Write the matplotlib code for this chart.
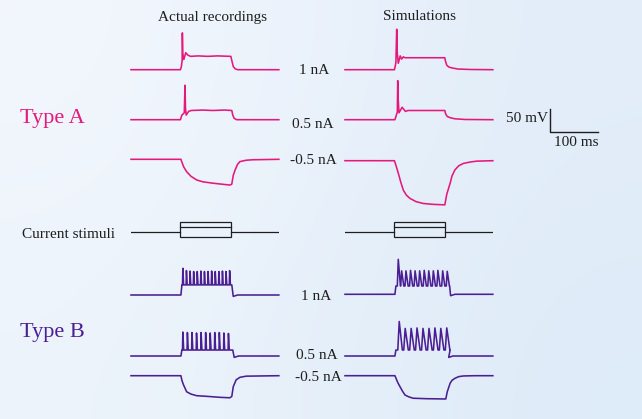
import matplotlib
matplotlib.use("Agg")
import matplotlib.pyplot as plt
import numpy as np
from matplotlib.patches import Rectangle

W, H = 642, 419
PX_PER_MS = 0.48
PX_PER_MV = 0.46
PX_PER_NA = 10.0
REST = -65
SWEEP_MS = 308

PINK = "#e5187b"
PURPLE = "#4b1f93"
INK = "#1e1e1e"

# ---- Type A (ms / mV) ----
a_rec_1_t = [0, 103, 105, 106.5, 107, 108, 110, 114, 118, 124, 140, 160, 180, 208, 210, 213, 217, 222, 308]
a_rec_1_v = [-65, -65, -58, -45, 15, -30, -43, -28, -33, -36, -35, -36, -35, -36, -45, -58, -63, -65, -65]

a_rec_05_t = [0, 103, 106, 111, 112.5, 113.5, 115, 120, 125, 150, 170, 195, 210, 212, 215, 220, 308]
a_rec_05_v = [-65, -65, -55, -50, 10, -40, -55, -47, -45, -44, -45, -44, -45, -55, -62, -65, -65]

a_rec_m05_t = [0, 104, 105.6, 110, 116, 125, 137, 150, 171, 206, 210, 213, 217, 222, 227, 240, 254, 308]
a_rec_m05_v = [-65, -65, -70, -82, -92, -102, -110, -114, -117, -121, -119, -100, -88, -76, -70, -67, -66, -65]

a_sim_1_t = [0, 103, 106, 107.7, 109, 111, 115, 118, 121.5, 125, 208, 209, 211.8, 216, 222, 235, 260, 308]
a_sim_1_v = [-65, -65, -50, 23, -30, -51, -35, -42, -37, -39, -39, -45, -55, -59, -61, -63.5, -64.5, -65]

a_sim_05_t = [0, 104, 107, 109, 109.8, 110.8, 112.5, 119, 126, 131, 208, 209.5, 213, 220, 229, 250, 308]
a_sim_05_v = [-65, -65, -55, -48, 20, -20, -50, -38, -47, -45, -45, -52, -58, -61, -63, -64.5, -65]

a_sim_m05_t = [0, 103, 107, 111, 116, 121.5, 128, 135.4, 148, 163, 185, 208, 212, 219, 223, 229, 237, 246.5, 260, 274, 308]
a_sim_m05_v = [-65, -65, -78, -92, -111, -129, -140, -147, -154, -158, -160, -161, -138, -114, -98, -85, -76, -71, -68, -66, -65]

# ---- Type B ----
b_rec_m05_t = [0, 104, 106, 109.4, 116, 125, 137, 160, 185, 206, 210, 213, 219, 227, 240, 308]
b_rec_m05_v = [-65, -65, -75, -85, -100, -105, -108.5, -110, -112, -113, -110, -89, -74, -68.5, -66, -65]

b_sim_m05_t = [0, 104, 106, 110, 114.6, 120, 125, 133, 142, 170, 210, 213, 219, 223, 229, 237, 246.5, 270, 308]
b_sim_m05_v = [-65, -65, -70, -80, -89, -99, -107, -111, -114, -115, -115.6, -100, -81.5, -75, -70.7, -67, -65.6, -65, -65]

# spike trains: spike times (ms), peak values (mV), inter-spike trough (mV)
b_rec_1_spk_t = [108, 115.5, 123, 130.5, 138, 145.5, 153, 160.5, 168, 175.5, 183, 190.5, 198, 205.5]
b_rec_1_spk_v = [-7, -12, -13, -14, -14, -13, -14, -14, -13, -14, -14, -13, -14, -12]
b_rec_1_trough = -43
b_rec_1_onoff = (104, 210)

b_rec_05_spk_t = [108, 117.5, 127, 136.5, 146, 155.5, 165, 174.5, 184, 193.5, 203]
b_rec_05_spk_v = [-13, -14, -14, -15, -14, -14, -15, -14, -14, -15, -16]
b_rec_05_trough = -52
b_rec_05_onoff = (104, 212)

b_sim_1_spk_t = [111, 118, 127, 136.5, 146, 155.5, 165, 174.5, 184, 193.5, 203.5, 213]
b_sim_1_spk_v = [11, -14, -14, -13, -14, -14, -13, -14, -14, -13, -14, -15]
b_sim_1_trough = -47
b_sim_1_onoff = (104, 217)

b_sim_05_spk_t = [113, 125.4, 137.8, 150, 162.5, 175, 187.3, 199.6, 212]
b_sim_05_spk_v = [10, -5, -5, -4, -5, -5, -4, -5, -4]
b_sim_05_trough = -52
b_sim_05_onoff = (104, 213)

# stimulus levels (nA) and timing (ms)
stim_levels = [1, 0.5, -0.5]
stim_on, stim_off = 103, 208


def spike_train(times, peaks, trough, onoff, rise, fall):
    on, off = onoff
    t = [0, on, on + 2]
    v = [REST, REST, trough]
    for ti, pk in zip(times, peaks):
        t += [ti - rise, ti, ti + fall]
        v += [trough, pk, trough]
    t += [max(off, t[-1] + 0.5), off + 3, off + 12, SWEEP_MS]
    v += [trough, REST - 3, REST, REST]
    return t, v


fig = plt.figure(figsize=(W / 100, H / 100), dpi=100)

# soft blue background
bg = fig.add_axes([0, 0, 1, 1])
grad = np.array([[[243, 247, 253], [226, 237, 249]],
                 [[237, 244, 251], [222, 235, 248]]]) / 255
bg.imshow(grad, extent=[0, 1, 0, 1], aspect="auto", interpolation="bicubic")
bg.axis("off")


def trace_axes(x0, y_base, half=70):
    ax = fig.add_axes([x0 / W, 1 - (y_base + half) / H,
                       SWEEP_MS * PX_PER_MS / W, 2 * half / H])
    ax.set_xlim(0, SWEEP_MS)
    ax.set_ylim(REST - half / PX_PER_MV, REST + half / PX_PER_MV)
    ax.axis("off")
    ax.patch.set_alpha(0)
    return ax


def draw(x0, y_base, t, v, color):
    ax = trace_axes(x0, y_base)
    ax.plot(t, v, color=color, lw=1.15, clip_on=False, solid_joinstyle="round")


LEFT, RIGHT = 131, 345

draw(LEFT, 69.7, a_rec_1_t, a_rec_1_v, PINK)
draw(LEFT, 119.7, a_rec_05_t, a_rec_05_v, PINK)
draw(LEFT, 159.3, a_rec_m05_t, a_rec_m05_v, PINK)
draw(RIGHT, 69.7, a_sim_1_t, a_sim_1_v, PINK)
draw(RIGHT, 119.7, a_sim_05_t, a_sim_05_v, PINK)
draw(RIGHT, 160.7, a_sim_m05_t, a_sim_m05_v, PINK)

draw(LEFT, 295, *spike_train(b_rec_1_spk_t, b_rec_1_spk_v, b_rec_1_trough, b_rec_1_onoff, 0.7, 1.6), PURPLE)
draw(LEFT, 356, *spike_train(b_rec_05_spk_t, b_rec_05_spk_v, b_rec_05_trough, b_rec_05_onoff, 0.7, 1.8), PURPLE)
draw(LEFT, 375.7, b_rec_m05_t, b_rec_m05_v, PURPLE)
draw(RIGHT, 294.3, *spike_train(b_sim_1_spk_t, b_sim_1_spk_v, b_sim_1_trough, b_sim_1_onoff, 2.0, 4.5), PURPLE)
draw(RIGHT, 356, *spike_train(b_sim_05_spk_t, b_sim_05_spk_v, b_sim_05_trough, b_sim_05_onoff, 3.0, 6.5), PURPLE)
draw(RIGHT, 375.7, b_sim_m05_t, b_sim_m05_v, PURPLE)

# current stimulus schematic
for x0 in (LEFT, RIGHT):
    half = 20
    ax = fig.add_axes([x0 / W, 1 - (231.7 + half) / H,
                       SWEEP_MS * PX_PER_MS / W, 2 * half / H])
    ax.set_xlim(0, SWEEP_MS)
    ax.set_ylim(-half / PX_PER_NA, half / PX_PER_NA)
    ax.axis("off")
    ax.patch.set_alpha(0)
    ax.plot([0, stim_on], [0, 0], color=INK, lw=0.9)
    ax.plot([stim_off, SWEEP_MS], [0, 0], color=INK, lw=0.9)
    lo, hi = min(stim_levels), max(stim_levels)
    ax.add_patch(Rectangle((stim_on, lo), stim_off - stim_on, hi - lo,
                           fill=False, ec=INK, lw=0.9))
    for lv in stim_levels:
        if lo < lv < hi:
            ax.plot([stim_on, stim_off], [lv, lv], color=INK, lw=0.9)

# scale bar: 50 mV, 100 ms
sb = trace_axes(550, 132)
sb.plot([0, 0, 100], [REST + 50, REST, REST], color=INK, lw=1.0, clip_on=False)

font = "Liberation Serif"


def label(x, y, s, size=11, color=INK, ha="center"):
    fig.text(x / W, 1 - y / H, s, ha=ha, va="center", fontsize=size,
             color=color, family=font)


label(212.5, 17, "Actual recordings")
label(420, 17, "Simulations")
label(314, 71, "1 nA")
label(313, 124, "0.5 nA")
label(313, 161, "-0.5 nA")
label(316, 296, "1 nA")
label(317, 355, "0.5 nA")
label(318, 377, "-0.5 nA")
label(548, 118, "50 mV", ha="right")
label(576, 143, "100 ms")
label(22, 234, "Current stimuli", ha="left")
label(20, 118, "Type A", size=16, color=PINK, ha="left")
label(20, 332, "Type B", size=16, color=PURPLE, ha="left")

fig.savefig("out.png", dpi=100)
